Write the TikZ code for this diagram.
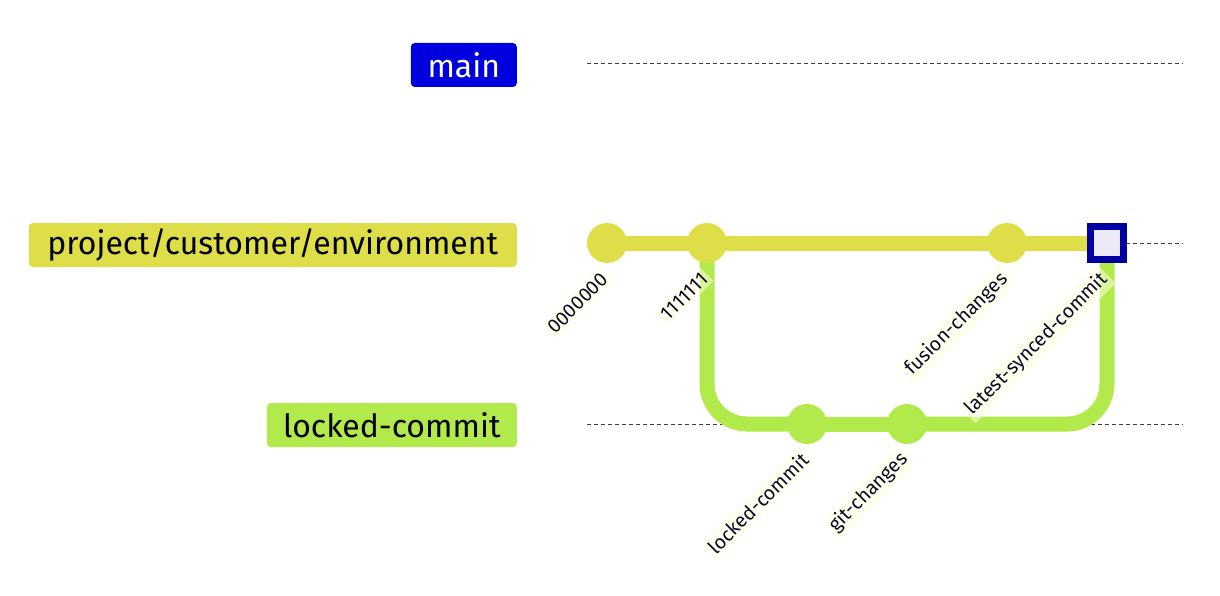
\documentclass[tikz,border=0pt]{standalone}
\usepackage{fontspec}
\setmainfont{Fira Sans}
\usetikzlibrary{backgrounds}
\definecolor{gitblue}{RGB}{0,0,222}
\definecolor{gityellow}{RGB}{222,222,72}
\definecolor{gitgreen}{RGB}{178,234,76}
\definecolor{hlborder}{RGB}{0,0,160}
\definecolor{hlfill}{RGB}{234,234,248}
\definecolor{lblbg}{RGB}{255,255,222}
\definecolor{dashgray}{RGB}{60,60,60}
\definecolor{lbltext}{RGB}{10,10,40}
\tikzset{
  x=1pt, y=-1pt,
  branchlbl/.style={rounded corners=4pt, minimum height=44pt, inner sep=0pt, anchor=east, font=\fontsize{32}{32}\selectfont},
  commitdot/.style={circle, minimum size=40pt, inner sep=0pt},
  hlcommit/.style={draw=hlborder, line width=7pt, fill=hlfill, minimum size=33pt, inner sep=0pt},
  commitlbl/.style={rotate=45, anchor=east, fill=lblbg, fill opacity=0.55, text opacity=1, text=lbltext, inner sep=3pt, font=\fontsize{19.5}{19.5}\selectfont},
  lane/.style={dashgray, line width=1pt, dash pattern=on 4pt off 3pt},
  yline/.style={gityellow, line width=15pt},
  gline/.style={gitgreen, line width=15pt, rounded corners=40pt},
}
\begin{document}
\begin{tikzpicture}
\useasboundingbox (0,0) rectangle (1220,596);
% branch labels
\node[branchlbl, fill=gitblue, text=white, minimum width=106pt] (bmain) at (517,65) {main};
\node[branchlbl, fill=gityellow, minimum width=488pt] (bproj) at (517,245) {project/customer/environment};
\node[branchlbl, fill=gitgreen, minimum width=250pt] (block) at (517,425) {locked-commit};
% lane ends
\coordinate (ms) at (587,64); \coordinate (me) at (1183,64);
\coordinate (ps) at (587,243); \coordinate (pe) at (1183,243);
\coordinate (ls) at (587,424); \coordinate (le) at (1183,424);
% commits
\node[commitdot, fill=gityellow] (c0) at (607,243) {};
\node[commitdot, fill=gityellow] (c1) at (707,243) {};
\node[commitdot, fill=gitgreen] (c2) at (807,424) {};
\node[commitdot, fill=gitgreen] (c3) at (907,424) {};
\node[commitdot, fill=gityellow] (c4) at (1007,243) {};
\node[hlcommit] (c5) at (1107,243) {};
% lines
\begin{scope}[on background layer]
\draw[lane] (ms) -- (me);
\draw[lane] (ps) -- (pe);
\draw[lane] (ls) -- (le);
\draw[yline] (c0.center) -- (c5.center);
\draw[gline] (c1.center) |- (c2.center);
\draw[gitgreen, line width=15pt] (c2.center) -- (c3.center);
\draw[gline] (c3.center) -| (c5.center);
\end{scope}
% commit labels
\node[commitlbl] (l0) at (607,274) {0000000};
\node[commitlbl] (l1) at (707,274) {1111111};
\node[commitlbl] (l2) at (807,454) {locked-commit};
\node[commitlbl] (l3) at (907,454) {git-changes};
\node[commitlbl] (l4) at (1007,274) {fusion-changes};
\node[commitlbl] (l5) at (1107,274) {latest-synced-commit};
\end{tikzpicture}
\end{document}
